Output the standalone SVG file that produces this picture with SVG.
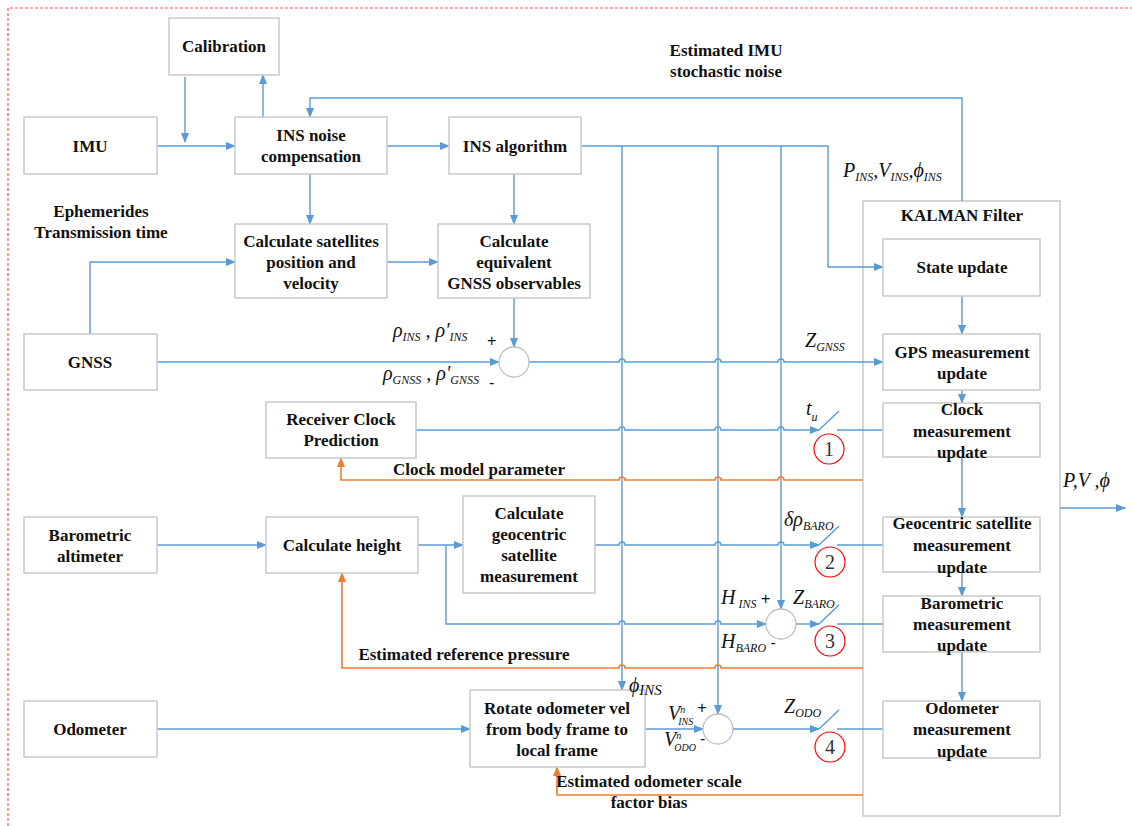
<svg xmlns="http://www.w3.org/2000/svg" width="1132" height="826" viewBox="0 0 1132 826">
<style>
.box{fill:#fff;stroke:#c9c9c9;stroke-width:1.5}
.sum{fill:#fff;stroke:#bfbfbf;stroke-width:1.3}
.rc{fill:none;stroke:#ff0000;stroke-width:1.2}
.bl{fill:none;stroke:#5b9bd5;stroke-width:1.4}
.or{fill:none;stroke:#ed7d31;stroke-width:1.6}
.t{font-family:"Liberation Serif","Times New Roman",serif;font-weight:bold;font-size:17px;text-anchor:middle;fill:#111}
.m{font-family:"Liberation Serif",serif;font-style:italic;font-size:20px;fill:#111}
.s{font-size:12px}
.n{font-family:"Liberation Serif",serif;font-size:20px;text-anchor:middle;fill:#333}
.pm{font-family:"Liberation Sans",sans-serif;font-size:16px;fill:#111}
</style>
<defs>
<marker id="ab" markerWidth="10" markerHeight="8" refX="9" refY="4" orient="auto" markerUnits="userSpaceOnUse"><path d="M0,0 L10,4 L0,8 z" fill="#5b9bd5"/></marker>
<marker id="ao" markerWidth="10" markerHeight="8" refX="9" refY="4" orient="auto" markerUnits="userSpaceOnUse"><path d="M0,0 L10,4 L0,8 z" fill="#ed7d31"/></marker>
</defs>
<rect width="1132" height="826" fill="#fff"/>
<path d="M8,826 V8 H1132" fill="none" stroke="#ff5050" stroke-width="1.2" stroke-dasharray="3,2"/>

<g id="kalman"><rect class="box" x="863" y="201" width="197" height="615"/><text class="t" x="962" y="221">KALMAN Filter</text></g>

<g id="connectors">
<path class="bl" marker-end="url(#ab)" d="M157,146 H235"/>
<path class="bl" marker-end="url(#ab)" d="M185,77 V142"/>
<path class="bl" marker-end="url(#ab)" d="M263,117 V75"/>
<path class="bl" marker-end="url(#ab)" d="M962,201 V98 H310 V117"/>
<path class="bl" marker-end="url(#ab)" d="M387,146 H449"/>
<path class="bl" marker-end="url(#ab)" d="M310,174 V224"/>
<path class="bl" marker-end="url(#ab)" d="M514,174 V224"/>
<path class="bl" marker-end="url(#ab)" d="M387,262 H438"/>
<path class="bl" marker-end="url(#ab)" d="M90,334 V262 H235"/>
<path class="bl" marker-end="url(#ab)" d="M157,362 H499"/>
<path class="bl" marker-end="url(#ab)" d="M514,298 V347"/>
<path class="bl" marker-end="url(#ab)" d="M529,362 H619 a3,3 0 0 1 6,0 H715 a3,3 0 0 1 6,0 H778 a3,3 0 0 1 6,0 H883"/>
<path class="bl" marker-end="url(#ab)" d="M581,146 H828 V267 H883"/>
<path class="bl" marker-end="url(#ab)" d="M622,146 V690"/>
<path class="bl" marker-end="url(#ab)" d="M718,146 V714"/>
<path class="bl" marker-end="url(#ab)" d="M781,146 V609"/>
<path class="bl" marker-end="url(#ab)" d="M416,430 H619 a3,3 0 0 1 6,0 H715 a3,3 0 0 1 6,0 H778 a3,3 0 0 1 6,0 H819"/>
<path class="bl" d="M819,430 L839,411 M837,430 H883"/>
<path class="bl" marker-end="url(#ab)" d="M157,545 H266"/>
<path class="bl" marker-end="url(#ab)" d="M418,545 H463"/>
<path class="bl" marker-end="url(#ab)" d="M446,545 V624 H619 a3,3 0 0 1 6,0 H715 a3,3 0 0 1 6,0 H766"/>
<path class="bl" marker-end="url(#ab)" d="M595,545 H619 a3,3 0 0 1 6,0 H715 a3,3 0 0 1 6,0 H778 a3,3 0 0 1 6,0 H819"/>
<path class="bl" d="M819,545 L839,526 M837,545 H883"/>
<path class="bl" marker-end="url(#ab)" d="M796,624 H819"/>
<path class="bl" d="M819,624 L839,605 M837,624 H883"/>
<path class="bl" marker-end="url(#ab)" d="M157,729 H470"/>
<path class="bl" marker-end="url(#ab)" d="M645,729 H703"/>
<path class="bl" marker-end="url(#ab)" d="M733,729 H819"/>
<path class="bl" d="M819,729 L839,710 M837,729 H883"/>
<path class="bl" marker-end="url(#ab)" d="M962,296 V334"/>
<path class="bl" marker-end="url(#ab)" d="M962,390 V403"/>
<path class="bl" marker-end="url(#ab)" d="M962,457 V517"/>
<path class="bl" marker-end="url(#ab)" d="M962,572 V596"/>
<path class="bl" marker-end="url(#ab)" d="M962,652 V701"/>
<path class="bl" marker-end="url(#ab)" d="M1060,508 H1125"/>
<path class="or" marker-end="url(#ao)" d="M863,480 H784 a3,3 0 0 0 -6,0 H721 a3,3 0 0 0 -6,0 H625 a3,3 0 0 0 -6,0 H341 V458"/>
<path class="or" marker-end="url(#ao)" d="M863,668 H721 a3,3 0 0 0 -6,0 H625 a3,3 0 0 0 -6,0 H342 V573"/>
<path class="or" marker-end="url(#ao)" d="M863,795 H557 V767"/>
</g>

<g id="calibration"><rect class="box" x="169" y="18" width="110" height="57"/><text class="t" x="224" y="52">Calibration</text></g>
<g id="imu"><rect class="box" x="24" y="117" width="133" height="57"/><text class="t" x="90" y="152">IMU</text></g>
<g id="ins-noise"><rect class="box" x="235" y="117" width="152" height="57"/><text class="t" x="311" y="141">INS noise</text><text class="t" x="311" y="162">compensation</text></g>
<g id="ins-alg"><rect class="box" x="449" y="117" width="132" height="57"/><text class="t" x="515" y="152">INS algorithm</text></g>
<g id="ephem"><text class="t" x="101" y="217">Ephemerides</text><text class="t" x="101" y="238">Transmission time</text></g>
<g id="calc-sat"><rect class="box" x="235" y="224" width="152" height="74"/><text class="t" x="311" y="247">Calculate satellites</text><text class="t" x="311" y="268">position and</text><text class="t" x="311" y="289">velocity</text></g>
<g id="calc-eq"><rect class="box" x="438" y="224" width="152" height="74"/><text class="t" x="514" y="247">Calculate</text><text class="t" x="514" y="268">equivalent</text><text class="t" x="514" y="289">GNSS observables</text></g>
<g id="gnss"><rect class="box" x="24" y="334" width="133" height="56"/><text class="t" x="90" y="368">GNSS</text></g>
<g id="sum1"><circle class="sum" cx="514" cy="362" r="15"/><text class="pm" x="487" y="346">+</text><text class="pm" x="489" y="388">-</text></g>
<g id="clock-pred"><rect class="box" x="266" y="402" width="150" height="56"/><text class="t" x="341" y="425">Receiver Clock</text><text class="t" x="341" y="446">Prediction</text></g>
<g id="baro"><rect class="box" x="24" y="517" width="133" height="56"/><text class="t" x="90" y="541">Barometric</text><text class="t" x="90" y="562">altimeter</text></g>
<g id="calc-height"><rect class="box" x="266" y="517" width="152" height="56"/><text class="t" x="342" y="551">Calculate height</text></g>
<g id="calc-geo"><rect class="box" x="463" y="496" width="132" height="97"/><text class="t" x="529" y="519">Calculate</text><text class="t" x="529" y="540">geocentric</text><text class="t" x="529" y="561">satellite</text><text class="t" x="529" y="582">measurement</text></g>
<g id="sum2"><circle class="sum" cx="781" cy="624" r="15"/></g>
<g id="odometer"><rect class="box" x="24" y="701" width="133" height="56"/><text class="t" x="90" y="735">Odometer</text></g>
<g id="rotate"><rect class="box" x="470" y="690" width="175" height="77"/><text class="t" x="557" y="714">Rotate odometer vel</text><text class="t" x="557" y="735">from body frame to</text><text class="t" x="557" y="756">local frame</text></g>
<g id="sum3"><circle class="sum" cx="718" cy="729" r="15"/></g>
<g id="state-update"><rect class="box" x="883" y="239" width="157" height="57"/><text class="t" x="962" y="273">State update</text></g>
<g id="gps-update"><rect class="box" x="883" y="334" width="157" height="56"/><text class="t" x="962" y="358">GPS measurement</text><text class="t" x="962" y="379">update</text></g>
<g id="clock-update"><rect class="box" x="883" y="403" width="157" height="54"/><text class="t" x="962" y="415">Clock</text><text class="t" x="962" y="437">measurement</text><text class="t" x="962" y="458">update</text></g>
<g id="geo-update"><rect class="box" x="883" y="517" width="157" height="55"/><text class="t" x="962" y="529">Geocentric satellite</text><text class="t" x="962" y="551">measurement</text><text class="t" x="962" y="573">update</text></g>
<g id="baro-update"><rect class="box" x="883" y="596" width="157" height="56"/><text class="t" x="962" y="609">Barometric</text><text class="t" x="962" y="630">measurement</text><text class="t" x="962" y="651">update</text></g>
<g id="odo-update"><rect class="box" x="883" y="701" width="157" height="57"/><text class="t" x="962" y="714">Odometer</text><text class="t" x="962" y="735">measurement</text><text class="t" x="962" y="757">update</text></g>

<g id="switches">
<circle class="rc" cx="829" cy="449" r="15"/><text class="n" x="829" y="456">1</text>
<circle class="rc" cx="830" cy="562" r="15"/><text class="n" x="830" y="569">2</text>
<circle class="rc" cx="830" cy="641" r="15"/><text class="n" x="830" y="648">3</text>
<circle class="rc" cx="830" cy="747" r="15"/><text class="n" x="830" y="754">4</text>
</g>

<g id="labels">
<text class="t" x="726" y="56">Estimated IMU</text>
<text class="t" x="726" y="77">stochastic noise</text>
<text class="t" x="479" y="475">Clock model parameter</text>
<text class="t" x="464" y="660">Estimated reference pressure</text>
<text class="t" x="649" y="787">Estimated odometer scale</text>
<text class="t" x="649" y="808">factor bias</text>
<text class="m" x="843" y="177">P<tspan class="s" dy="4">INS</tspan><tspan dy="-4">,</tspan>V<tspan class="s" dy="4">INS</tspan><tspan dy="-4">,</tspan>ϕ<tspan class="s" dy="4">INS</tspan></text>
<text class="m" x="805" y="347">Z<tspan class="s" dy="4">GNSS</tspan></text>
<text class="m" x="393" y="337">ρ<tspan class="s" dy="4">INS</tspan><tspan dy="-4"> , </tspan>ρ′<tspan class="s" dy="4">INS</tspan></text>
<text class="m" x="383" y="380">ρ<tspan class="s" dy="4">GNSS</tspan><tspan dy="-4"> , </tspan>ρ′<tspan class="s" dy="4">GNSS</tspan></text>
<text class="m" x="806" y="415" font-size="22">t<tspan class="s" font-size="14" dy="6">u</tspan></text>
<text class="m" x="784" y="526">δρ<tspan class="s" dy="4">BARO</tspan></text>
<text class="m" x="721" y="604">H<tspan class="s" dy="4"> INS</tspan><tspan class="pm" font-style="normal" dy="-4"> +</tspan></text>
<text class="m" x="793" y="604">Z<tspan class="s" dy="4">BARO</tspan></text>
<text class="m" x="721" y="648">H<tspan class="s" dy="4">BARO</tspan><tspan class="pm" font-style="normal" dy="-4"> -</tspan></text>
<text class="m" x="629" y="692">ϕ<tspan font-size="15" dy="3">INS</tspan></text>
<text class="m" x="668" y="720" font-size="16">V<tspan font-size="10" dy="-7">n</tspan><tspan font-size="10" dx="-7" dy="12">INS</tspan><tspan class="pm" font-style="normal" dx="4" dy="-12">+</tspan></text>
<text class="m" x="664" y="746" font-size="16">V<tspan font-size="10" dy="-7">n</tspan><tspan font-size="10" dx="-7" dy="12">ODO</tspan><tspan class="pm" font-style="normal" dx="4" dy="-7">-</tspan></text>
<text class="m" x="784" y="713">Z<tspan class="s" dy="4">ODO</tspan></text>
<text class="m" x="1063" y="487" font-size="22">P,V ,ϕ</text>
</g>
</svg>
